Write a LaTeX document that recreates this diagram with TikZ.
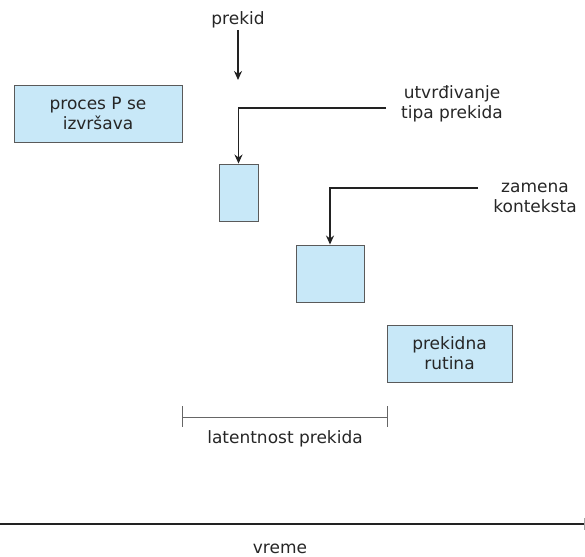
\documentclass[tikz,border=0pt]{standalone}
\usepackage{fontspec}
\setmainfont{DejaVu Sans}
\usetikzlibrary{arrows.meta,calc}
\definecolor{boxfill}{HTML}{C8E8F8}
\definecolor{boxline}{HTML}{5A5A5A}
\definecolor{arr}{HTML}{222222}
\begin{document}
\begin{tikzpicture}[x=1pt,y=-1pt,
  every node/.style={font=\fontsize{17}{20}\selectfont, text=black!85},
  blk/.style={draw=boxline, fill=boxfill, line width=0.9pt, inner sep=0pt, align=center},
  lbl/.style={align=center, inner sep=0pt, anchor=base},
  conn/.style={draw=arr, line width=1.7pt, -{Stealth[length=9pt,width=8pt]}},
  tick/.style={draw=black!60, line width=0.9pt}]
\useasboundingbox (0,0) rectangle (585,556);
% boxes
\node[blk, minimum width=168pt, minimum height=57pt] (p) at (98,113.5) {};
\node[lbl] (ptxt) at (98,130) {proces P se\\izvršava};
\node[blk, minimum width=39pt, minimum height=57pt] (b1) at (238.5,192.5) {};
\node[blk, minimum width=68pt, minimum height=57pt] (b2) at (330,273.5) {};
\node[blk, minimum width=125pt, minimum height=57pt] (b3) at (449.5,353.5) {};
\node[lbl] (b3txt) at (449.5,369) {prekidna\\rutina};
% labels
\node[lbl] (prekid) at (238,25) {prekid};
\node[lbl] (utv) at (452,119) {utvrđivanje\\tipa prekida};
\node[lbl] (zam) at (535,212) {zamena\\konteksta};
\coordinate (utvL) at (386,108);
\coordinate (zamL) at (478,188);
% connectors
\coordinate (prekidS) at (238,30);
\coordinate (prekidEnd) at (238,80);
\draw[conn] (prekidS) -- (prekidEnd);
\draw[conn] (utvL) -| (b1.north);
\draw[conn] (zamL) -| (b2.north);
% latency
\coordinate (la) at (182,417);
\coordinate (lb) at (387,417);
\draw[tick] (la) -- (lb);
\draw[tick] ($(la)+(0,-11)$) -- ($(la)+(0,10)$);
\draw[tick] ($(lb)+(0,-11)$) -- ($(lb)+(0,10)$);
\node[lbl] (lat) at (285,443) {latentnost prekida};
% time axis
\coordinate (t0) at (0,524);
\coordinate (t1) at (585,524);
\draw[draw=arr, line width=1.8pt] (t0) -- (t1);
\draw[draw=black!35, line width=0.6pt] ($(t1)+(-1,-6)$) -- ($(t1)+(-1,6)$);
\node[lbl] (vreme) at (280,553) {vreme};
\end{tikzpicture}
\end{document}
